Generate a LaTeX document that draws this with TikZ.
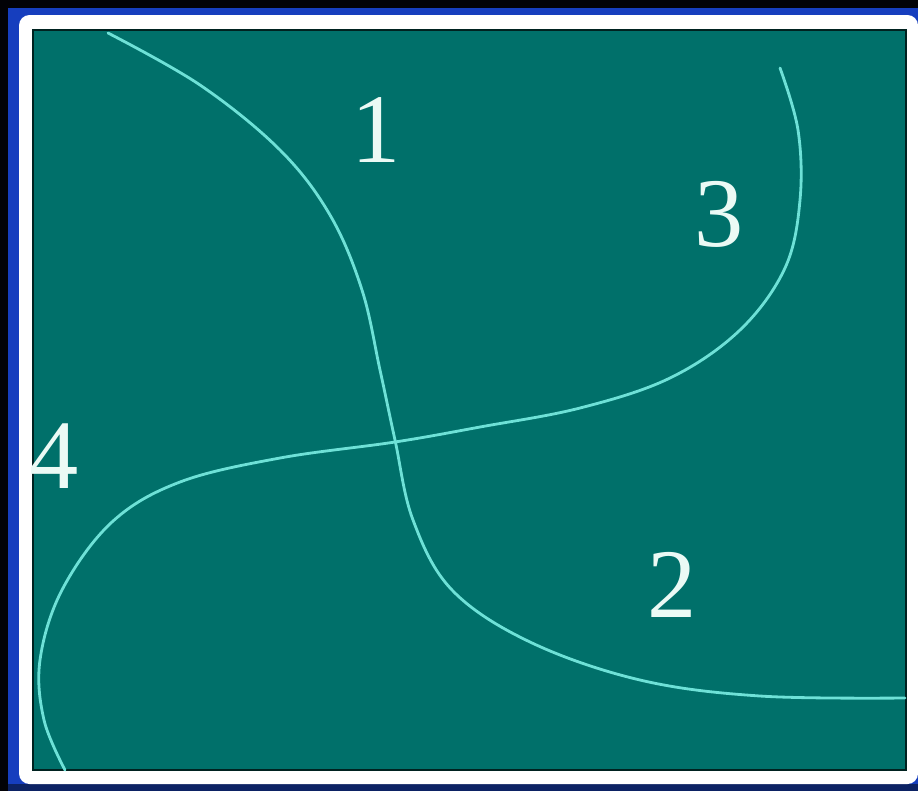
\documentclass[tikz,border=0pt]{standalone}
\usepackage{fontspec}
\setmainfont{Liberation Serif}
\usepackage{xcolor}
\definecolor{bgblack}{RGB}{2,2,6}
\definecolor{frameblue}{RGB}{22,62,190}
\definecolor{framedark}{RGB}{12,34,100}
\definecolor{boardteal}{RGB}{0,112,106}
\definecolor{chalkline}{RGB}{110,225,215}
\definecolor{chalktext}{RGB}{235,250,245}
\usetikzlibrary{positioning}

\tikzset{
  region/.style={font=\fontsize{56}{60}\selectfont, text=chalktext, inner sep=0pt},
  boundary/.style={draw=chalkline, line width=1.6pt, line cap=round}
}

\begin{document}
\begin{tikzpicture}[x=0.02cm, y=-0.02cm]
  \useasboundingbox (0,0) rectangle (918,791);
  % Background and frame
  \fill[bgblack] (0,0) rectangle (918,791);
  \fill[framedark] (8,8) rectangle (918,791);
  \fill[frameblue] (8,8) rectangle (918,784);
  \fill[white, rounded corners=6pt] (19,15) rectangle (918,784);
  \draw[fill=boardteal, draw=black!70!boardteal, line width=0.8pt] (33,30) rectangle (906,770);

  % Boundary between 1 and 2
  \draw[boundary] plot[smooth, tension=0.6] coordinates {
    (108,33) (200,85) (280,150) (330,215) (362,290) (380,370) (395,440)
    (413,520) (452,590) (530,642) (640,680) (760,696) (905,698)};

  % Boundary between 3 and 4
  \draw[boundary] plot[smooth, tension=0.6] coordinates {
    (780,68) (798,130) (800,200) (785,268) (740,330) (670,378) (580,408)
    (480,427) (395,442) (280,458) (180,482) (112,522) (62,590) (40,660)
    (44,720) (65,770)};

  % Region labels
  \node[region] (one) at (376,130) {1};
  \node[region] (three) at (719,214) {3};
  \node[region] (two) at (672,585) {2};
  \node[region] (four) at (54,456) {4};
\end{tikzpicture}
\end{document}
